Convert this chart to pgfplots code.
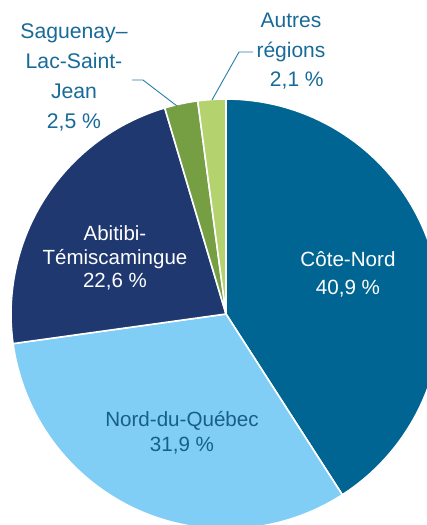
\documentclass[border=0pt]{standalone}
\usepackage{pgfplots}
\usepackage{pgfplotstable}
\pgfplotsset{compat=1.18}
\usepackage{fontspec}
\setmainfont{Liberation Sans}
\definecolor{cnord}{RGB}{0,101,146}
\definecolor{nordq}{RGB}{128,206,245}
\definecolor{abiti}{RGB}{31,56,112}
\definecolor{sague}{RGB}{118,158,66}
\definecolor{autre}{RGB}{180,210,110}
\definecolor{lbl}{RGB}{24,106,152}
\definecolor{leader}{RGB}{40,125,170}

\pgfplotstableread{
label value
CoteNord 40.9
NordQuebec 31.9
Abitibi 22.6
Saguenay 2.5
Autres 2.1
}\piedata

\begin{document}
\begin{tikzpicture}
\pgfplotstablegetelem{0}{value}\of\piedata \let\vA\pgfplotsretval
\pgfplotstablegetelem{1}{value}\of\piedata \let\vB\pgfplotsretval
\pgfplotstablegetelem{2}{value}\of\piedata \let\vC\pgfplotsretval
\pgfplotstablegetelem{3}{value}\of\piedata \let\vD\pgfplotsretval
\pgfplotstablegetelem{4}{value}\of\piedata \let\vE\pgfplotsretval
\pgfmathsetmacro\aA{90}
\pgfmathsetmacro\aB{\aA-3.6*\vA}
\pgfmathsetmacro\aC{\aB-3.6*\vB}
\pgfmathsetmacro\aD{\aC-3.6*\vC}
\pgfmathsetmacro\aE{\aD-3.6*\vD}
\pgfmathsetmacro\aF{\aE-3.6*\vE}
\begin{axis}[
  scale only axis, width=427pt, height=525pt,
  xmin=0, xmax=427, ymin=0, ymax=525,
  hide axis, clip=true,
]
\def\cx{226}\def\cy{211}\def\rr{215}
\addplot[fill=cnord, draw=white, line width=1.6pt, domain=\aB:\aA, samples=80, variable=\t]
  ({\cx+\rr*cos(\t)}, {\cy+\rr*sin(\t)}) -- (axis cs:\cx,\cy) -- cycle;
\addplot[fill=nordq, draw=white, line width=1.6pt, domain=\aC:\aB, samples=80, variable=\t]
  ({\cx+\rr*cos(\t)}, {\cy+\rr*sin(\t)}) -- (axis cs:\cx,\cy) -- cycle;
\addplot[fill=abiti, draw=white, line width=1.6pt, domain=\aD:\aC, samples=80, variable=\t]
  ({\cx+\rr*cos(\t)}, {\cy+\rr*sin(\t)}) -- (axis cs:\cx,\cy) -- cycle;
\addplot[fill=sague, draw=white, line width=1.6pt, domain=\aE:\aD, samples=20, variable=\t]
  ({\cx+\rr*cos(\t)}, {\cy+\rr*sin(\t)}) -- (axis cs:\cx,\cy) -- cycle;
\addplot[fill=autre, draw=white, line width=1.6pt, domain=\aF:\aE, samples=20, variable=\t]
  ({\cx+\rr*cos(\t)}, {\cy+\rr*sin(\t)}) -- (axis cs:\cx,\cy) -- cycle;
% leader lines
\addplot[draw=leader, line width=0.9pt, mark=none] coordinates {(177,419) (143,445) (132,445)};
\addplot[draw=leader, line width=0.9pt, mark=none] coordinates {(212,425) (239,473) (253,473)};
% labels (anchor=base is the baseline of the last line)
\node[anchor=base, align=center, inner sep=0pt, text=lbl, font=\fontsize{21.2}{30}\selectfont] at (axis cs:74,396) {Saguenay–\\Lac-Saint-\\Jean\\2,5 \%};
\node[anchor=base, align=center, inner sep=0pt, text=lbl, font=\fontsize{21}{29.5}\selectfont] at (axis cs:291,438) {Autres\\régions\\\phantom{0}2,1 \%};
\node[anchor=base, align=center, inner sep=0pt, text=white, font=\fontsize{20.6}{28.5}\selectfont] at (axis cs:348,230) {Côte-Nord\\40,9 \%};
\node[anchor=base, align=center, inner sep=0pt, text=white, font=\fontsize{20.5}{23.5}\selectfont] at (axis cs:115,237) {Abitibi-\\Témiscamingue\\22,6 \%};
\node[anchor=base, align=center, inner sep=0pt, text=lbl!90!black, font=\fontsize{20.6}{25}\selectfont] at (axis cs:182,73.3) {Nord-du-Québec\\31,9 \%};
\end{axis}
\pgfresetboundingbox
\path (current axis.south west) rectangle (current axis.north east);
\end{tikzpicture}
\end{document}
